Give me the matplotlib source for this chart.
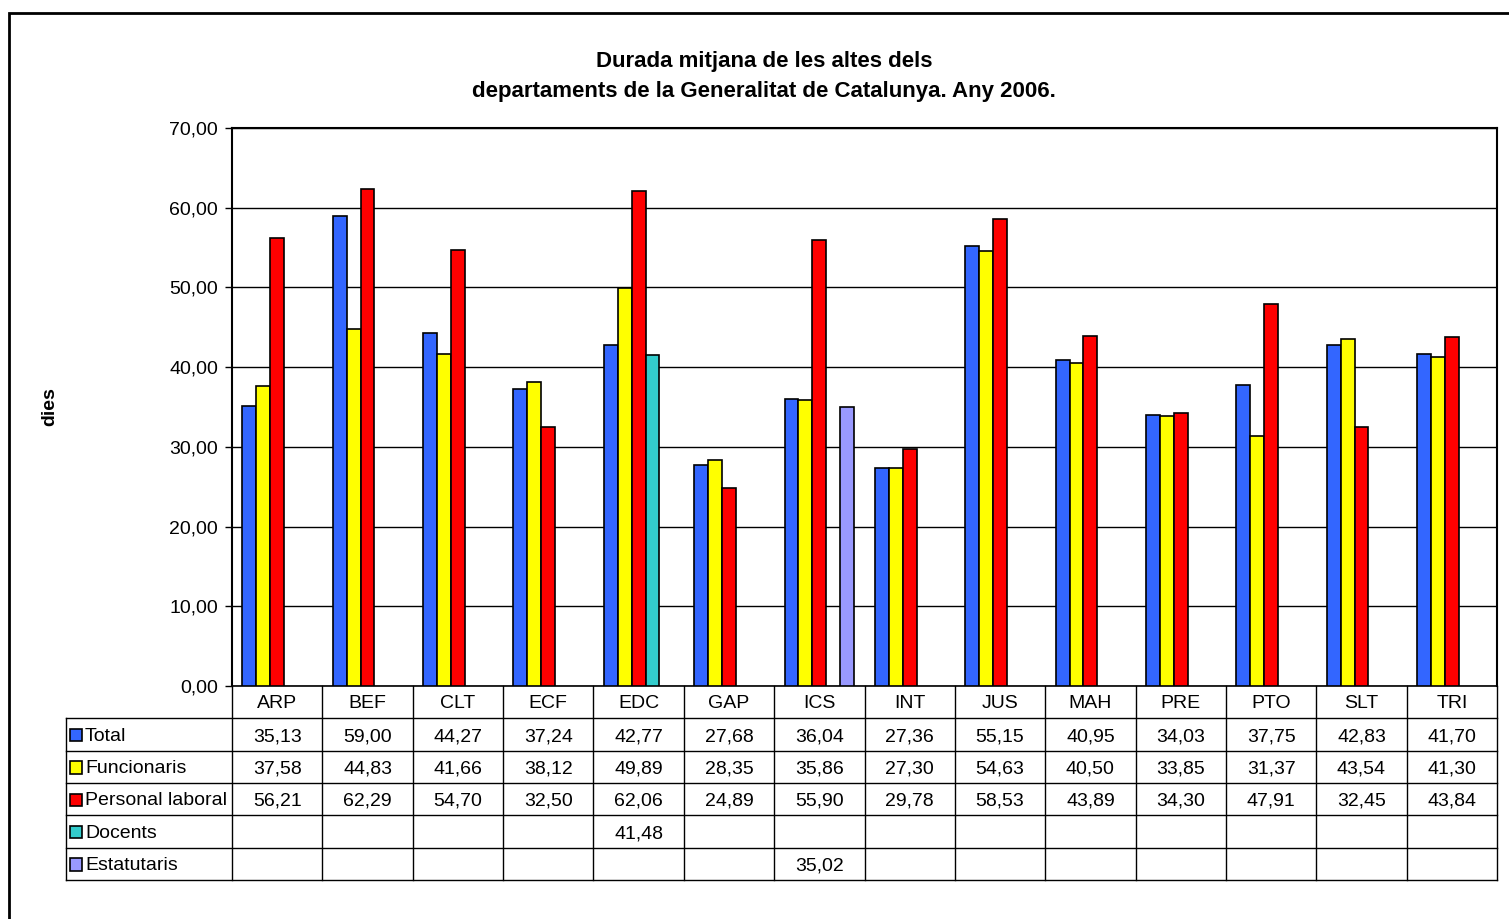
import numpy as np
import matplotlib
matplotlib.use("Agg")
import matplotlib.pyplot as plt
from matplotlib.patches import Rectangle

plt.rcParams['font.family'] = ['Liberation Sans', 'DejaVu Sans']

categories = ['ARP', 'BEF', 'CLT', 'ECF', 'EDC', 'GAP', 'ICS', 'INT', 'JUS', 'MAH', 'PRE', 'PTO', 'SLT', 'TRI']
series_names = ['Total', 'Funcionaris', 'Personal laboral', 'Docents', 'Estatutaris']
total = [35.13, 59.00, 44.27, 37.24, 42.77, 27.68, 36.04, 27.36, 55.15, 40.95, 34.03, 37.75, 42.83, 41.70]
funcionaris = [37.58, 44.83, 41.66, 38.12, 49.89, 28.35, 35.86, 27.30, 54.63, 40.50, 33.85, 31.37, 43.54, 41.30]
laboral = [56.21, 62.29, 54.70, 32.50, 62.06, 24.89, 55.90, 29.78, 58.53, 43.89, 34.30, 47.91, 32.45, 43.84]
docents = [None, None, None, None, 41.48, None, None, None, None, None, None, None, None, None]
estatutaris = [None, None, None, None, None, None, 35.02, None, None, None, None, None, None, None]
colors = ['#3366FF', '#FFFF00', '#FF0000', '#33CCCC', '#9999FF']

all_series = [total, funcionaris, laboral, docents, estatutaris]

W, H = 1509, 919
fig = plt.figure(figsize=(W / 100, H / 100), dpi=100)

# outer chart border (cut off at right/bottom in the original)
fig.patches.append(Rectangle((9 / W, -0.01), 1.1, 1 - 13 / H + 0.01, transform=fig.transFigure,
                             fill=False, edgecolor='black', linewidth=2))

px = lambda x0, y0, x1, y1: [x0 / W, 1 - y1 / H, (x1 - x0) / W, (y1 - y0) / H]
ax = fig.add_axes(px(232, 128, 1497, 686))

n = len(categories)
x = np.arange(n)
bw = 1 / 6.5
for j, vals in enumerate(all_series):
    v = np.array([np.nan if a is None else a for a in vals], dtype=float)
    ax.bar(x + (j - 2) * bw, v, width=bw, color=colors[j], edgecolor='black', linewidth=1.2, zorder=3)

ax.set_xlim(-0.5, n - 0.5)
ax.set_ylim(0, 70)
ax.set_yticks(np.arange(0, 71, 10))
ax.set_yticklabels([f"{t:.2f}".replace('.', ',') for t in np.arange(0, 71, 10)], fontsize=14)
ax.tick_params(axis='y', length=5, width=1, direction='out', pad=5)
ax.set_xticks([])
ax.yaxis.grid(True, color='black', linewidth=1)
ax.set_axisbelow(True)
for s in ['left', 'top', 'right']:
    ax.spines[s].set_linewidth(1.5)
ax.spines['bottom'].set_linewidth(1.2)
fig.text(50 / W, 1 - 407 / H, 'dies', rotation=90, ha='center', va='center',
         fontsize=14, fontweight='bold')

fig.text(764 / W, 1 - 61 / H, 'Durada mitjana de les altes dels', ha='center', va='center',
         fontsize=16, fontweight='bold')
fig.text(764 / W, 1 - 91 / H, 'departaments de la Generalitat de Catalunya. Any 2006.', ha='center',
         va='center', fontsize=16, fontweight='bold')

# data table below the axis
tax = fig.add_axes(px(232, 686, 1497, 880))
tax.set_xlim(-0.5, n - 0.5)
nrows = len(series_names) + 1
tax.set_ylim(nrows, 0)
tax.axis('off')
left = -0.5 - (232 - 66) / (1265 / n)
lc = dict(color='black', linewidth=1, clip_on=False)
for i in range(n + 1):
    tax.plot([i - 0.5, i - 0.5], [0, nrows], **lc)
for r in range(1, nrows + 1):
    tax.plot([left, n - 0.5], [r, r], **lc)
tax.plot([left, left], [1, nrows], **lc)

for i, c in enumerate(categories):
    tax.text(i, 0.55, c, ha='center', va='center', fontsize=14)
for j, (name, vals) in enumerate(zip(series_names, all_series)):
    r = j + 1.55
    tax.add_patch(Rectangle((left + 0.045, r - 0.22), 0.13, 0.38, facecolor=colors[j],
                            edgecolor='black', linewidth=1.2, clip_on=False))
    tax.text(left + 0.21, r, name, ha='left', va='center', fontsize=14)
    for i, v in enumerate(vals):
        if v is not None:
            tax.text(i, r + 0.02, f"{v:.2f}".replace('.', ','), ha='center', va='center', fontsize=14)

fig.savefig('out.png', dpi=100)
